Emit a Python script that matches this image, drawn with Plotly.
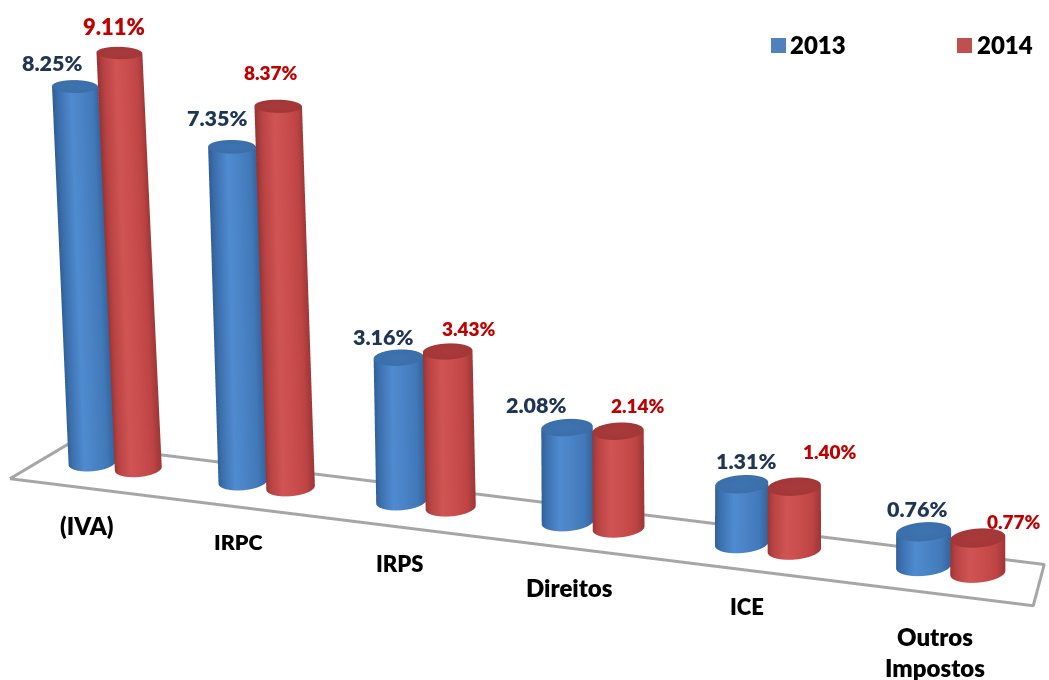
import numpy as np
import plotly.graph_objects as go

categories = ["(IVA)", "IRPC", "IRPS", "Direitos", "ICE", "Outros<br>Impostos"]
values_2013 = [8.25, 7.35, 3.16, 2.08, 1.31, 0.76]
values_2014 = [9.11, 8.37, 3.43, 2.14, 1.40, 0.77]
labels_2013 = ["8.25%", "7.35%", "3.16%", "2.08%", "1.31%", "0.76%"]
labels_2014 = ["9.11%", "8.37%", "3.43%", "2.14%", "1.40%", "0.77%"]

W, H = 1049, 680
AZ = np.radians(23)
EL = np.radians(17)
D = 2.0
XR = (-0.92, 5.78)
YR = (-0.6, 0.6)
ZR = (-2.106, 9.894)
K = 1.232
AX = 2.73 * K * (XR[1] - XR[0]) / 6.1
AY = 0.32 * K * (YR[1] - YR[0])
AZR = 1.675
R_WORLD = 0.061 * K * 0.94

def pos(i):
    return 0.058 + 0.878 * i + 0.0226 * i * (i - 1)

def scale_at(i):
    return 1 + 0.032 * (i - 2.5)

blue_scale = [[0, "#2F5E96"], [0.1, "#3C70AE"], [0.32, "#4F8BD0"], [0.5, "#4A84C6"],
              [0.7, "#4178B8"], [0.8, "#34659F"], [0.9, "#3A6DA8"], [1, "#3F74B0"]]
red_scale = [[0, "#963434"], [0.1, "#B84242"], [0.32, "#D05454"], [0.5, "#CB4E4E"],
             [0.7, "#BE4444"], [0.8, "#A03838"], [0.9, "#A23636"], [1, "#A83A3A"]]

def cylinder(i, cx, cy, value, scale, name):
    th = np.linspace(0, 2 * np.pi, 97)
    rx = R_WORLD * scale_at(i) / (AX / (XR[1] - XR[0]))
    ry = R_WORLD * scale_at(i) / (AY / (YR[1] - YR[0]))
    lean = 0.012 * max(0.0, 1 - i / 3.5) * value
    grow = 1 + 0.006 * value
    rows = [(0.0, 1.0), (1.0, grow), (1.0, grow), (1.0, 0.0)]
    X, Y, Z = [], [], []
    for frac, rad in rows:
        depth = 1.35 - 0.05 * value * frac
        X.append(cx - lean * frac + rad * rx * np.cos(th))
        Y.append(cy + rad * ry * depth * np.sin(th))
        Z.append(np.full_like(th, value * frac))
    side = 0.8 * (np.cos(th - AZ) + 1) / 2
    C = np.array([side, side, np.full_like(th, 0.92), np.full_like(th, 1.0)])
    return go.Surface(x=np.array(X), y=np.array(Y), z=np.array(Z), surfacecolor=C,
                      colorscale=scale, cmin=0, cmax=1, showscale=False, name=name,
                      hoverinfo="skip",
                      lighting=dict(ambient=1, diffuse=0, specular=0, roughness=1, fresnel=0))

fig = go.Figure()
for i in range(len(categories)):
    off = 0.134 + 0.0046 * i
    fig.add_trace(cylinder(i, pos(i) - off, 0.0, values_2013[i], blue_scale, "2013"))
    fig.add_trace(cylinder(i, pos(i) + off, 0.0, values_2014[i], red_scale, "2014"))

fx0, fx1, bx0, bx1 = -0.40, 5.53, -0.36, 5.29
FLOOR_Z = -0.1
fig.add_trace(go.Scatter3d(
    x=[fx0, fx1, bx1, bx0, fx0], y=[-0.5, -0.5, 0.5, 0.5, -0.5], z=[FLOOR_Z] * 5,
    mode="lines", line=dict(color="#A6A6A6", width=6), showlegend=False, hoverinfo="skip"))

value_pos_2013 = [(52, 63), (217, 118), (383, 337), (536, 405), (746, 461), (917, 509)]
value_pos_2014 = [(114, 27), (271, 73), (469, 328), (638, 405), (830, 451), (1014, 521)]
size_2014 = [22, 19, 19, 19, 19, 19]
cat_pos = [(87, 525), (238, 542), (400, 563), (569, 587), (747, 606), (935, 652)]
size_cat = [24, 21.5, 22, 24, 22, 24]

ann = []
def text(x, y, s, color, size):
    ann.append(dict(x=x / W, y=1 - y / H, xref="paper", yref="paper", text=s,
                    showarrow=False, xanchor="center", yanchor="middle",
                    font=dict(family="Lato", size=size, color=color, weight=800)))

for p, s in zip(value_pos_2013, labels_2013):
    text(p[0], p[1], s, "#1F3555", 21.5)
for p, s, z in zip(value_pos_2014, labels_2014, size_2014):
    text(p[0], p[1], s, "#C00000", z)
for p, s, z in zip(cat_pos, categories, size_cat):
    text(p[0], p[1], s, "#000000", z)
text(818, 45, "2013", "#000000", 24)
text(1005, 45, "2014", "#000000", 24)

shapes = []
for x0, col in ((771, "#4F81BD"), (957, "#C0504D")):
    shapes.append(dict(type="rect", xref="paper", yref="paper", x0=x0 / W, x1=(x0 + 15) / W,
                       y0=1 - 53 / H, y1=1 - 38 / H, fillcolor=col, line=dict(width=0)))

hidden = dict(visible=False)
fig.update_layout(
    width=W, height=H, margin=dict(l=0, r=0, t=0, b=0), paper_bgcolor="white",
    showlegend=False, annotations=ann, shapes=shapes,
    scene=dict(
        domain=dict(x=[0, 1], y=[0, 1]),
        xaxis=dict(range=list(XR), **hidden),
        yaxis=dict(range=list(YR), **hidden),
        zaxis=dict(range=list(ZR), **hidden),
        aspectmode="manual", aspectratio=dict(x=AX, y=AY, z=AZR),
        camera=dict(eye=dict(x=D * np.sin(AZ) * np.cos(EL), y=-D * np.cos(AZ) * np.cos(EL), z=D * np.sin(EL)),
                    center=dict(x=0, y=0, z=0), up=dict(x=0, y=0, z=1),
                    projection=dict(type="orthographic")),
    ),
)
fig.write_html("out.html", config={"displayModeBar": False},
               post_script="document.body.style.margin='0';document.body.style.overflow='hidden';")
